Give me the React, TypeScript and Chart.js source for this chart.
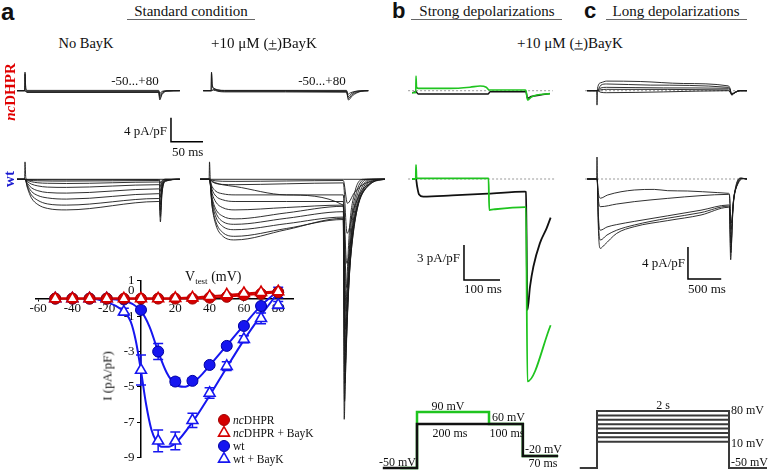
import React, { useEffect, useRef } from "react";
import { Chart, registerables } from "chart.js";
Chart.register(...registerables);

type Pt = [number, number];

// ---------------- I–V relationship (panel a, bottom) ----------------
const V_TEST = [-50, -40, -30, -20, -10, 0, 10, 20, 30, 40, 50, 60, 70, 80];
const I_NC = [0, 0, 0, 0, 0, 0, 0, 0, 0, 0.05, 0.1, 0.2, 0.27, 0.36];
const I_NC_BAYK = [0, 0, 0, 0, 0, 0, 0, 0.02, 0.05, 0.13, 0.22, 0.3, 0.35, 0.4];
const I_WT = [0, 0, 0, 0, -0.05, -0.64, -3.0, -4.7, -4.66, -3.76, -2.68, -1.55, -0.42, 0.35];
const I_WT_BAYK = [0, 0, 0, 0, -0.75, -4.05, -8.06, -8.06, -6.9, -5.35, -3.83, -2.3, -1.12, -0.36];
const SEM_WT = [0, 0, 0, 0, 0, 0.1, 0.45, 0.2, 0.15, 0.12, 0.12, 0.12, 0.12, 0.3];
const SEM_WT_BAYK = [0, 0, 0, 0, 0.2, 0.85, 0.62, 0.5, 0.4, 0.3, 0.25, 0.2, 0.3, 0.2];
const FIT_NC: Pt[] = [[-50, 0], [20, 0], [30, 0.01], [40, 0.05], [50, 0.11], [60, 0.19], [70, 0.27], [80, 0.36]];
const FIT_NC_BAYK: Pt[] = [[-50, 0], [10, 0], [20, 0.02], [30, 0.06], [40, 0.13], [50, 0.21], [60, 0.29], [70, 0.35], [80, 0.41]];
const FIT_WT: Pt[] = [[-20, 0], [-10, -0.12], [-5, -0.3], [0, -0.7], [5, -1.6], [10, -3.0], [15, -4.2], [20, -4.85], [25, -5.0], [30, -4.8], [35, -4.35], [40, -3.8], [50, -2.65], [60, -1.5], [70, -0.4], [80, 0.45]];
const FIT_WT_BAYK: Pt[] = [[-30, 0], [-25, -0.05], [-20, -0.2], [-15, -0.4], [-10, -0.75], [-6, -1.3], [-3, -2.4], [0, -4.1], [3, -6.0], [6, -7.4], [9, -8.1], [12, -8.4], [16, -8.4], [20, -8.2], [30, -7.0], [40, -5.5], [50, -3.9], [60, -2.35], [70, -0.95], [80, 0.35]];
const X_TICKS = [-60, -40, -20, 20, 40, 60, 80];
const Y_TICKS = [1, 0, -1, -3, -5, -7, -9];

// ---------------- panel a current traces (ms, pA/pF) ----------------
const NC_NOBAYK: Pt[][] = [
  [[-12.5, 0], [-0.6, 0], [0, 3.1], [1.2, 0.4], [3, 0.05], [209, 0.05], [210.5, -0.5], [213, -0.2], [220, 0], [242, 0]],
  [[-12.5, 0], [-0.6, 0], [0, 2.8], [1.2, 0.3], [3, -0.1], [209, -0.1], [210.5, -0.9], [213.5, -0.35], [221, -0.05], [242, 0]],
  [[-12.5, 0], [0, 0], [3, -0.2], [209, -0.2], [210.5, -1.25], [214, -0.5], [222, -0.05], [242, 0]],
  [[-12.5, 0], [0, 0], [3, -0.3], [209, -0.3], [210.5, -1.55], [214, -0.65], [223, -0.05], [242, 0]],
];
const NC_BAYK: Pt[][] = [
  [[-13, 0], [-0.6, 0], [0, 3.1], [1.2, 1.0], [4, 0.4], [10, 0.15], [20, 0.05], [211, 0.05], [213, -0.6], [217, -0.35], [228, -0.05], [245, 0]],
  [[-13, 0], [-0.6, 0], [0, 2.9], [1.2, 0.8], [4, 0.3], [10, 0.1], [20, 0], [211, -0.05], [213.5, -1.0], [218, -0.55], [230, -0.05], [245, 0]],
  [[-13, 0], [0, 0], [3, 0.2], [10, 0], [20, -0.1], [211, -0.15], [214, -1.3], [219, -0.7], [232, -0.1], [245, 0]],
  [[-13, 0], [0, 0], [3, 0.1], [10, -0.1], [20, -0.2], [211, -0.25], [214, -1.55], [220, -0.85], [234, -0.1], [245, 0]],
];
const WT_NOBAYK_BASE: Pt[] = [[-12.5, 0], [-0.6, 0], [0, 2.9], [1.2, 0.3], [3, 0], [209, 0], [242, 0]];
const WT_NOBAYK: Pt[][] = [
  [[-12.5, 0], [0, 0], [4, -1.5], [10, -3.1], [20, -4.2], [35, -4.85], [65, -5.1], [208, -3.7], [210, -3.7], [211.5, -7.1], [214, -2.5], [220, -0.3], [242, 0]],
  [[-12.5, 0], [0, 0], [4, -1.3], [10, -2.6], [20, -3.5], [35, -4.1], [65, -4.3], [208, -3.2], [210, -3.2], [211.5, -6.2], [214, -2.2], [220, -0.3], [242, 0]],
  [[-12.5, 0], [0, 0], [4, -1.0], [10, -2.0], [20, -2.7], [35, -3.1], [65, -3.3], [208, -2.4], [210, -2.4], [211.5, -5.2], [214, -1.8], [220, -0.2], [242, 0]],
  [[-12.5, 0], [0, 0], [4, -0.7], [10, -1.4], [20, -1.9], [35, -2.2], [65, -2.3], [208, -1.6], [210, -1.6], [211.5, -4.2], [214, -1.5], [220, -0.2], [242, 0]],
  [[-12.5, 0], [0, 0], [4, -0.4], [10, -0.8], [20, -1.1], [35, -1.3], [65, -1.35], [208, -0.9], [210, -0.9], [211.5, -3.0], [214, -1.0], [220, -0.1], [242, 0]],
  [[-12.5, 0], [0, 0], [4, -0.2], [10, -0.4], [20, -0.58], [35, -0.66], [65, -0.7], [208, -0.45], [210, -0.45], [211.5, -2.0], [214, -0.7], [220, -0.1], [242, 0]],
  [[-12.5, 0], [0, 0], [6, -0.15], [20, -0.25], [65, -0.3], [208, -0.2], [210, -0.2], [211.5, -1.2], [214, -0.4], [220, 0], [242, 0]],
  [[-12.5, 0], [0, 0], [6, -0.05], [20, -0.08], [65, -0.1], [208, -0.05], [210, -0.05], [211.5, -0.6], [214, -0.2], [220, 0], [242, 0]],
];
const WT_BAYK_BASE: Pt[] = [[-14.8, 0], [-0.6, 0], [0, 2.9], [1.2, 0.3], [3, 0], [209, 0], [274, 0]];
const WT_BAYK: Pt[][] = [
  [[-14.8, 0], [0, 0], [4, -4.5], [10, -7.6], [20, -9.4], [40, -10.1], [120, -8.4], [209, -6.5], [210.5, -40], [213.5, -22], [218.5, -8.8], [226.5, -2.4], [240.5, 0], [274, 0]],
  [[-14.8, 0], [0, 0], [4, -4.3], [10, -7.1], [20, -8.8], [40, -9.5], [120, -8.2], [209, -6.7], [211, -37], [214.8, -20.4], [220.6, -8.1], [229.6, -2.2], [244.5, 0], [274, 0]],
  [[-14.8, 0], [0, 0], [4, -3.8], [10, -6.3], [20, -7.8], [40, -8.4], [120, -7.4], [209, -6.3], [211.5, -34], [216.1, -18.7], [222.7, -7.5], [232.7, -2.0], [248.5, 0], [274, 0]],
  [[-14.8, 0], [0, 0], [4, -3.4], [10, -5.6], [20, -7.0], [40, -7.5], [120, -6.5], [209, -5.4], [212, -31], [217.4, -17], [224.8, -6.8], [235.8, -1.9], [252.5, 0], [274, 0]],
  [[-14.8, 0], [0, 0], [4, -3.0], [10, -5.0], [20, -6.1], [40, -6.6], [120, -5.6], [209, -4.5], [212.5, -28], [218.7, -15.4], [226.9, -6.2], [238.9, -1.7], [256.5, 0], [274, 0]],
  [[-14.8, 0], [0, 0], [4, -2.3], [10, -3.8], [20, -4.7], [40, -5.1], [120, -4.7], [209, -4.3], [213, -25], [220, -13.8], [229, -5.5], [242, -1.5], [260.5, 0], [274, 0]],
  [[-14.8, 0], [0, 0], [4, -1.7], [10, -2.8], [20, -3.4], [40, -3.7], [120, -3.7], [209, -3.7], [213.5, -22], [221.3, -12.1], [231.1, -4.8], [245.1, -1.3], [264.5, 0], [274, 0]],
  [[-14.8, 0], [0, 0], [4, -1.2], [10, -2.0], [20, -2.4], [40, -2.6], [120, -2.6], [209, -2.6], [214, -18], [222.6, -9.9], [233.2, -4.0], [248.2, -1.1], [268.5, 0], [274, 0]],
  [[-14.8, 0], [0, 0], [4, -0.3], [10, -0.6], [20, -0.9], [40, -1.2], [120, -2.6], [209, -4.3], [214.5, -14], [223.9, -7.7], [235.3, -3.1], [251.3, -0.8], [272.5, 0], [274, 0]],
  [[-14.8, 0], [0, 0], [4, -0.4], [10, -0.7], [20, -0.85], [40, -0.9], [120, -0.75], [209, -0.6], [215, -9], [225.2, -5], [237.4, -2], [254.4, -0.5], [274, 0]],
  [[-14.8, 0], [0, 0], [4, -0.15], [10, -0.26], [20, -0.33], [40, -0.35], [120, -0.28], [209, -0.2], [215.5, -4], [226.5, -2.2], [239.5, -0.9], [257.5, -0.25], [274, 0]],
];
const SCALE_A: Pt[] = [[228.1, -4.5], [228.1, -8.5], [278.1, -8.5]]; // 4 pA/pF, 50 ms

// ---------------- panel b traces ----------------
const B_TOP_BASE: Pt[] = [[-22, 0], [380, 0]];
const B_TOP_GREEN: Pt[] = [[-11, -0.17], [-0.6, -0.17], [0, 1.26], [1.5, 0.3], [6, 0.2], [94, 0.2], [150, 0.3], [178, 0.4], [195, 0.3], [203, 0.06], [303, 0.06], [305.5, 0], [310, -0.8], [320, -0.55], [335, -0.37], [372, -0.25]];
const B_TOP_BLACK: Pt[] = [[-11, -0.17], [0, -0.1], [6, -0.28], [200, -0.28], [206, -0.08], [303, -0.08], [305.5, -0.1], [310, -0.65], [320, -0.5], [345, -0.37], [372, -0.25]];
const B_BOT_BASE: Pt[] = [[-22, 0], [386, 0]];
const B_BOT_BLACK: Pt[] = [[-11, 0], [0, 0], [3, -0.6], [8, -1.3], [20, -1.5], [100, -1.4], [200, -1.25], [303, -1.08], [305.5, -1.1], [309.5, -11.2], [316.7, -9.2], [326, -7.5], [344, -5.5], [363, -4.2], [374, -3.3]];
const B_BOT_GREEN: Pt[] = [[-11, 0], [-0.6, 0], [0, 1.2], [1.5, 0.1], [5, 0.05], [201.5, 0.05], [203.5, -2.65], [215, -2.6], [303, -2.4], [305.5, -2.4], [309.5, -17.3], [374, -12.5]];
const SCALE_B: Pt[] = [[133.3, -5.64], [133.3, -8.63], [233.3, -8.63]]; // 3 pA/pF, 100 ms
const PROT_B_BLACK: Pt[] = [[-95, -50], [0, -50], [0, 60], [294, 60], [294, -20], [392, -20]];
const PROT_B_GREEN: Pt[] = [[-47, -50], [0, -50], [0, 90], [200, 90], [200, 60], [294, 60], [294, -20], [392, -20]];

// ---------------- panel c traces ----------------
const C_BASE: Pt[] = [[-180, 0], [2255, 0]];
const C_TOP: Pt[][] = [
  [[-150, 0], [-5, 0], [0, -1.8], [8, 0.3], [60, 1.0], [145, 1.2], [650, 1.15], [1300, 0.9], [1975, 0.6], [2000, 0.3], [2025, -0.55], [2080, -0.2], [2150, 0], [2255, 0]],
  [[-150, 0], [0, 0], [60, 0.7], [145, 0.84], [800, 0.7], [1975, 0.42], [2000, 0.2], [2025, -0.5], [2080, -0.2], [2150, 0], [2255, 0]],
  [[-150, 0], [0, 0], [60, 0.35], [145, 0.42], [1000, 0.35], [1975, 0.3], [2000, 0.1], [2025, -0.45], [2080, -0.15], [2150, 0], [2255, 0]],
  [[-150, 0], [0, 0], [60, 0.12], [145, 0.17], [1975, 0.1], [2025, -0.4], [2150, 0], [2255, 0]],
  [[-150, 0], [0, 0], [60, -0.2], [145, -0.25], [1000, -0.15], [1975, 0], [2025, -0.35], [2150, 0], [2255, 0]],
];
const C_BOT: Pt[][] = [
  [[-150, 0], [-5, 0], [0, 2.75], [6, 0], [20, -6], [50, -8.67], [110, -8.25], [296, -6.8], [561, -5.96], [1063, -5.2], [1564, -4.5], [1975, -3.54], [1990, -3.6], [2010, -10.1], [2040, -4], [2080, -1.2], [2150, 0.1], [2255, 0]],
  [[-150, 0], [0, 0], [6, -0.5], [20, -5.2], [50, -7.63], [150, -7.0], [296, -6.4], [561, -5.75], [1063, -4.9], [1564, -4.2], [1975, -3.4], [1990, -3.45], [2012, -9.2], [2045, -3.6], [2090, -1.0], [2160, 0.1], [2255, 0]],
  [[-150, 0], [0, 0], [6, -0.4], [20, -4.4], [50, -6.4], [150, -6.0], [296, -5.7], [561, -5.3], [1063, -4.6], [1564, -3.9], [1975, -3.25], [1990, -3.3], [2014, -8.0], [2050, -3.2], [2100, -0.9], [2170, 0.1], [2255, 0]],
  [[-150, 0], [0, 0], [6, -0.3], [20, -2.5], [50, -3.46], [296, -3.13], [561, -2.83], [1063, -2.42], [1564, -2.08], [1975, -1.92], [1990, -2.0], [2016, -6.3], [2055, -2.5], [2110, -0.7], [2180, 0.05], [2255, 0]],
  [[-150, 0], [0, 0], [6, -0.3], [20, -1.7], [50, -2.4], [160, -2.0], [561, -1.375], [862, -1.3], [1063, -1.46], [1363, -1.5], [1815, -1.7], [1975, -1.79], [1990, -1.85], [2018, -5.5], [2060, -2.2], [2120, -0.6], [2190, 0.05], [2255, 0]],
];
const SCALE_C: Pt[] = [[1368, -8.5], [1368, -12.5], [1868, -12.5]]; // 4 pA/pF, 500 ms
const STEP_MV = [80, 70, 60, 50, 40, 30, 20, 10];
const PROT_C_START = -256;
const PROT_C_END = 1985;
const PROT_C_STOP = 2556;

// ---------------- helpers ----------------
const SERIF = "'Liberation Serif','Times New Roman',serif";
const SANS = "'Liberation Sans',Arial,sans-serif";
const GREEN = "#1fc41f";
const RED = "#d40000";
const BLUE = "#1616f0";

interface Series { pts: Pt[]; color?: string; width?: number; dash?: number[]; smooth?: boolean }
interface Frame { left: number; top: number; width: number; height: number; x0: number; xs: number; y0: number; ys: number }

function TraceChart({ frame, series }: { frame: Frame; series: Series[] }) {
  const ref = useRef<HTMLCanvasElement>(null);
  useEffect(() => {
    const f = frame;
    const chart = new Chart(ref.current!, {
      type: "line",
      data: {
        datasets: series.slice().reverse().map((s) => ({
          data: s.pts.map(([x, y]) => ({ x, y })),
          borderColor: s.color ?? "#111",
          borderWidth: s.width ?? 1,
          borderDash: s.dash ?? [],
          pointRadius: 0,
          fill: false,
          tension: 0,
          cubicInterpolationMode: s.smooth === false ? "default" : "monotone",
          clip: false,
        })) as any,
      },
      options: {
        animation: false,
        responsive: false,
        events: [],
        layout: { padding: 0 },
        plugins: { legend: { display: false }, tooltip: { enabled: false } },
        scales: {
          x: { type: "linear", display: false, min: (f.left - f.x0) / f.xs, max: (f.left + f.width - f.x0) / f.xs },
          y: { type: "linear", display: false, min: (f.y0 - f.top - f.height) / f.ys, max: (f.y0 - f.top) / f.ys },
        },
      },
    });
    return () => chart.destroy();
  }, []);
  return <canvas ref={ref} width={frame.width} height={frame.height} style={{ position: "absolute", left: frame.left, top: frame.top }} />;
}

const IV_BOX = { left: 20, top: 262, width: 300, height: 208 };
const IV_AREA = { left: 36, right: 293, top: 281, bottom: 457.4, x0: 141, xs: 1.715, y0: 298.6, ys: 17.65 };
const LEGEND = [
  { label: ["nc", "DHPR"], shape: "circle", fill: RED, stroke: "#a00000", y: 420 },
  { label: ["nc", "DHPR + BayK"], shape: "triangle", fill: "#fff", stroke: RED, y: 433 },
  { label: ["", "wt"], shape: "circle", fill: BLUE, stroke: "#0000a0", y: 446 },
  { label: ["", "wt + BayK"], shape: "triangle", fill: "#fff", stroke: BLUE, y: 459 },
];

function drawMarker(ctx: CanvasRenderingContext2D, shape: string, x: number, y: number, fill: string, stroke: string) {
  ctx.save();
  ctx.beginPath();
  if (shape === "circle") {
    ctx.arc(x, y, 5.5, 0, Math.PI * 2);
    ctx.lineWidth = 1;
  } else {
    const r = 6.3;
    ctx.moveTo(x, y - r);
    ctx.lineTo(x + 0.866 * r, y + 0.5 * r);
    ctx.lineTo(x - 0.866 * r, y + 0.5 * r);
    ctx.closePath();
    ctx.lineWidth = 1.6;
  }
  ctx.fillStyle = fill;
  ctx.strokeStyle = stroke;
  ctx.fill();
  ctx.stroke();
  ctx.restore();
}

function IVChart() {
  const ref = useRef<HTMLCanvasElement>(null);
  useEffect(() => {
    const A = IV_AREA;
    const B = IV_BOX;
    const pts = (ys: number[]) => V_TEST.map((v, i) => ({ x: v, y: ys[i] }));
    const line = (p: Pt[], color: string, w: number) => ({
      data: p.map(([x, y]) => ({ x, y })), borderColor: color, borderWidth: w, pointRadius: 0,
      cubicInterpolationMode: "monotone", fill: false, clip: false,
    });
    const marks = (ys: number[], style: string, fill: string, stroke: string, r: number, bw: number) => ({
      data: pts(ys), showLine: false, pointStyle: style, pointRadius: r, pointBackgroundColor: fill,
      pointBorderColor: stroke, pointBorderWidth: bw, clip: false,
    });
    // listed top-most first
    const datasets = [
      marks(I_NC_BAYK, "triangle", "#fff", RED, 6.3, 1.6),
      marks(I_NC, "circle", RED, "#a00000", 5.5, 1),
      line(FIT_NC_BAYK, RED, 2),
      line(FIT_NC, RED, 2),
      marks(I_WT, "circle", BLUE, "#0000a0", 5.5, 1),
      marks(I_WT_BAYK, "triangle", "#fff", BLUE, 6.3, 1.6),
      line(FIT_WT, BLUE, 2),
      line(FIT_WT_BAYK, BLUE, 2),
    ];
    const errorBars = {
      id: "errorBars",
      beforeDatasetsDraw(chart: any) {
        const { ctx, scales } = chart;
        ctx.save();
        ctx.strokeStyle = BLUE;
        ctx.lineWidth = 1.5;
        const draw = (vals: number[], sems: number[]) => {
          V_TEST.forEach((v, i) => {
            if (!sems[i]) return;
            const x = scales.x.getPixelForValue(v);
            const y1 = scales.y.getPixelForValue(vals[i] + sems[i]);
            const y2 = scales.y.getPixelForValue(vals[i] - sems[i]);
            ctx.beginPath();
            ctx.moveTo(x, y1); ctx.lineTo(x, y2);
            ctx.moveTo(x - 5, y1); ctx.lineTo(x + 5, y1);
            ctx.moveTo(x - 5, y2); ctx.lineTo(x + 5, y2);
            ctx.stroke();
          });
        };
        draw(I_WT, SEM_WT);
        draw(I_WT_BAYK, SEM_WT_BAYK);
        ctx.restore();
      },
    };
    const legend = {
      id: "ivLegend",
      afterDraw(chart: any) {
        const { ctx } = chart;
        LEGEND.forEach((e) => {
          const mx = 224 - B.left;
          const my = e.y - B.top;
          drawMarker(ctx, e.shape, mx, my, e.fill, e.stroke);
          ctx.save();
          ctx.fillStyle = "#111";
          ctx.textBaseline = "middle";
          let x = 233 - B.left;
          if (e.label[0]) {
            ctx.font = `italic 11.5px ${SERIF}`;
            ctx.fillText(e.label[0], x, my + 1);
            x += ctx.measureText(e.label[0]).width;
          }
          ctx.font = `11.5px ${SERIF}`;
          ctx.fillText(e.label[1], x, my + 1);
          ctx.restore();
        });
      },
    };
    const tickFont = { family: SERIF, size: 13 };
    const chart = new Chart(ref.current!, {
      type: "line",
      data: { datasets: datasets as any },
      options: {
        animation: false,
        responsive: false,
        events: [],
        layout: { padding: { left: A.left - B.left, right: B.left + B.width - A.right, top: A.top - B.top, bottom: B.top + B.height - A.bottom } },
        plugins: { legend: { display: false }, tooltip: { enabled: false } },
        scales: {
          x: {
            type: "linear",
            min: (A.left - A.x0) / A.xs,
            max: (A.right - A.x0) / A.xs,
            position: { y: 0 } as any,
            border: { color: "#000", width: 1.5 },
            grid: { display: true, drawOnChartArea: false, drawTicks: true, tickLength: 2, color: "#000" },
            afterBuildTicks: (s: any) => { s.ticks = X_TICKS.map((v) => ({ value: v })); },
            ticks: { color: "#111", font: tickFont, padding: 0, maxRotation: 0, autoSkip: false },
          },
          y: {
            type: "linear",
            min: (A.y0 - A.bottom) / A.ys,
            max: (A.y0 - A.top) / A.ys,
            position: { x: 0 } as any,
            border: { color: "#000", width: 1.5 },
            grid: { display: true, drawOnChartArea: false, drawTicks: true, tickLength: 3, color: "#000" },
            afterBuildTicks: (s: any) => { s.ticks = Y_TICKS.map((v) => ({ value: v })); },
            ticks: {
              color: "#111", font: tickFont, padding: 1, autoSkip: false,
              callback: (v: any) => (Number(v) === 0 ? ["0\u2002", ""] : `${v}\u2002`),
            },
          },
        },
      },
      plugins: [errorBars, legend],
    });
    return () => chart.destroy();
  }, []);
  return <canvas ref={ref} width={IV_BOX.width} height={IV_BOX.height} style={{ position: "absolute", left: IV_BOX.left, top: IV_BOX.top }} />;
}

function Txt({ x, y, children, size = 13, anchor = "c", bold = false, color = "#111", rot = false, family = SERIF }: any) {
  const tx = rot ? "-50%" : anchor === "l" ? "0" : anchor === "r" ? "-100%" : "-50%";
  return (
    <div style={{ position: "absolute", left: x, top: y, transform: `translate(${tx},-50%)${rot ? " rotate(-90deg)" : ""}`, fontFamily: family, fontSize: size, fontWeight: bold ? 700 : 400, color, whiteSpace: "nowrap", lineHeight: 1 }}>
      {children}
    </div>
  );
}

function Rule({ x1, x2, y }: { x1: number; x2: number; y: number }) {
  return <div style={{ position: "absolute", left: x1, top: y, width: x2 - x1, height: 1, background: "#666" }} />;
}

const BayKLabel = () => (
  <span>+10 μM (<span style={{ textDecoration: "underline" }}>+</span>)BayK</span>
);

// frames: page pixel of (0,0) and pixels per unit
const F_A1: Frame = { left: 12, top: 62, width: 198, height: 84, x0: 25, xs: 0.64, y0: 90.7, ys: 6 };
const F_A2: Frame = { left: 12, top: 150, width: 180, height: 85, x0: 25, xs: 0.64, y0: 179.3, ys: 6 };
const F_A3: Frame = { left: 196, top: 62, width: 196, height: 50, x0: 211.5, xs: 0.64, y0: 90.7, ys: 6 };
const F_A4: Frame = { left: 196, top: 150, width: 196, height: 280, x0: 209.5, xs: 0.64, y0: 179.3, ys: 6 };
const F_B1: Frame = { left: 404, top: 68, width: 156, height: 42, x0: 416, xs: 0.36, y0: 90.7, ys: 11.7 };
const F_B2: Frame = { left: 404, top: 150, width: 156, height: 245, x0: 416, xs: 0.36, y0: 179, ys: 11.7 };
const F_BP: Frame = { left: 378, top: 400, width: 190, height: 70, x0: 417, xs: 0.36, y0: 448, ys: 0.4 };
const F_C1: Frame = { left: 580, top: 72, width: 172, height: 38, x0: 597, xs: 0.0665, y0: 90.7, ys: 8 };
const F_C2: Frame = { left: 580, top: 150, width: 172, height: 135, x0: 597, xs: 0.0665, y0: 179, ys: 8 };
const F_CP: Frame = { left: 575, top: 400, width: 193, height: 70, x0: 597, xs: 0.0665, y0: 446.1, ys: 0.4385 };

export default function App() {
  const thin = (pts: Pt[]) => ({ pts, color: "#1a1a1a", width: 0.9 });
  const dotted = (pts: Pt[]) => ({ pts, color: "#999", width: 1, dash: [2, 2], smooth: false });
  const bar = (pts: Pt[]) => ({ pts, color: "#000", width: 1.5, smooth: false });
  const protC = STEP_MV.map((v) => ({
    pts: [[PROT_C_START, -50], [0, -50], [0, v], [PROT_C_END, v], [PROT_C_END, -50], [PROT_C_STOP, -50]] as Pt[],
    color: "#3a3a3a", width: 2, smooth: false,
  }));
  return (
    <div style={{ position: "fixed", left: 0, top: 0, width: 768, height: 470, background: "#fff", overflow: "hidden" }}>
      <TraceChart frame={F_A1} series={[...NC_NOBAYK.map(thin), bar(SCALE_A)]} />
      <TraceChart frame={F_A3} series={NC_BAYK.map(thin)} />
      <TraceChart frame={F_A2} series={[thin(WT_NOBAYK_BASE), ...WT_NOBAYK.map(thin)]} />
      <TraceChart frame={F_A4} series={[thin(WT_BAYK_BASE), ...WT_BAYK.map(thin)]} />
      <TraceChart frame={F_B1} series={[dotted(B_TOP_BASE), { pts: B_TOP_BLACK, color: "#111", width: 1.5 }, { pts: B_TOP_GREEN, color: GREEN, width: 1.6 }]} />
      <TraceChart frame={F_B2} series={[dotted(B_BOT_BASE), bar(SCALE_B), { pts: B_BOT_BLACK, color: "#111", width: 1.8 }, { pts: B_BOT_GREEN, color: GREEN, width: 1.8 }]} />
      <TraceChart frame={F_BP} series={[{ pts: PROT_B_GREEN, color: GREEN, width: 2.5, smooth: false }, { pts: PROT_B_BLACK, color: "#111", width: 2.5, smooth: false }]} />
      <TraceChart frame={F_C1} series={[dotted(C_BASE), ...C_TOP.map(thin)]} />
      <TraceChart frame={F_C2} series={[dotted(C_BASE), bar(SCALE_C), ...C_BOT.map(thin)]} />
      <TraceChart frame={F_CP} series={protC} />
      <IVChart />

      <Txt x={1} y={12} size={24} bold family={SANS} anchor="l">a</Txt>
      <Txt x={392} y={11} size={22} bold family={SANS} anchor="l">b</Txt>
      <Txt x={584} y={11} size={22} bold family={SANS} anchor="l">c</Txt>

      <Txt x={191} y={11} size={15}>Standard condition</Txt>
      <Rule x1={127} x2={255} y={19} />
      <Txt x={487} y={11} size={15}>Strong depolarizations</Txt>
      <Rule x1={411} x2={562} y={19} />
      <Txt x={676} y={11} size={15}>Long depolarizations</Txt>
      <Rule x1={606} x2={747} y={19} />

      <Txt x={86} y={43} size={14.5}>No BayK</Txt>
      <Txt x={264} y={43} size={15}><BayKLabel /></Txt>
      <Txt x={570} y={43} size={15}><BayKLabel /></Txt>

      <Txt x={10} y={92} size={15} bold color="#e00000" rot><i>nc</i>DHPR</Txt>
      <Txt x={9} y={179} size={15} bold color="#1a1ad0" rot>wt</Txt>

      <Txt x={135} y={80} size={13}>-50...+80</Txt>
      <Txt x={322} y={80} size={13}>-50...+80</Txt>

      <Txt x={167} y={130} size={13} anchor="r">4 pA/pF</Txt>
      <Txt x={172} y={151} size={13} anchor="l">50 ms</Txt>
      <Txt x={460} y={257} size={13} anchor="r">3 pA/pF</Txt>
      <Txt x={464} y={288} size={13} anchor="l">100 ms</Txt>
      <Txt x={685} y={262} size={13} anchor="r">4 pA/pF</Txt>
      <Txt x={688} y={288} size={13} anchor="l">500 ms</Txt>

      <Txt x={448} y={406} size={12}>90 mV</Txt>
      <Txt x={492} y={417} size={12} anchor="l">60 mV</Txt>
      <Txt x={450} y={433} size={12}>200 ms</Txt>
      <Txt x={507} y={433} size={12}>100 ms</Txt>
      <Txt x={525} y={449} size={12} anchor="l">-20 mV</Txt>
      <Txt x={543} y={463} size={12}>70 ms</Txt>
      <Txt x={416} y={462} size={12} anchor="r">-50 mV</Txt>

      <Txt x={663} y={405} size={12}>2 s</Txt>
      <Txt x={731} y={410} size={12} anchor="l">80 mV</Txt>
      <Txt x={731} y={443} size={12} anchor="l">10 mV</Txt>
      <Txt x={731} y={462} size={12} anchor="l">-50 mV</Txt>

      <Txt x={185} y={278} size={14} anchor="l">V<sub style={{ fontSize: 9 }}>test</sub> (mV)</Txt>
      <Txt x={107} y={376} size={13} rot>I (pA/pF)</Txt>
    </div>
  );
}
